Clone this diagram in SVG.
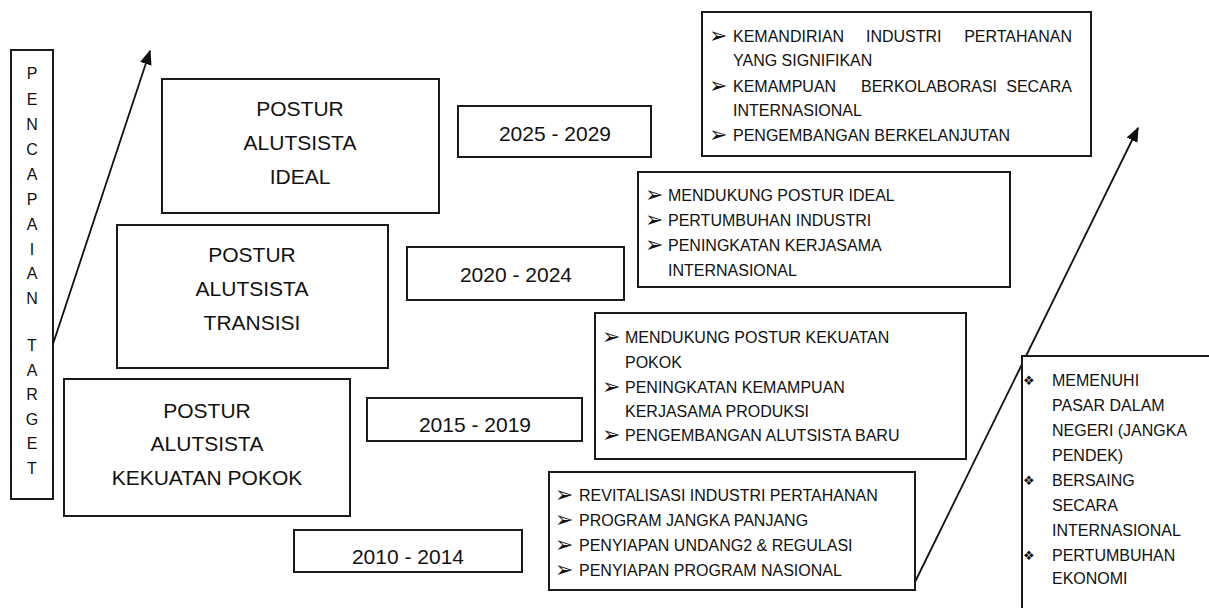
<svg xmlns="http://www.w3.org/2000/svg" width="1209" height="608" viewBox="0 0 1209 608">
<style>
.box{fill:#fff;stroke:#1a1a1a;stroke-width:2}
.t{font-family:"Liberation Sans",Arial,sans-serif;fill:#111}
.big{font-size:21px;text-anchor:middle}
.yr{font-size:21px;text-anchor:middle}
.b{font-size:16px}
.v{font-size:16px;text-anchor:middle}
.bul{font-family:"DejaVu Sans",sans-serif;font-size:22px;font-weight:bold;fill:#111}
.dia{font-family:"DejaVu Sans",sans-serif;font-size:13px;fill:#111}
.conn{stroke:#111;stroke-width:1.8;fill:none}
</style>
<defs>
<marker id="ah" viewBox="0 0 10 10" refX="9" refY="5" markerWidth="15" markerHeight="12" markerUnits="userSpaceOnUse" orient="auto" preserveAspectRatio="none">
<path d="M0,0 L10,5 L0,10 z" fill="#111"/>
</marker>
</defs>
<rect width="1209" height="608" fill="#fff"/>

<g id="target">
<rect class="box" x="11" y="50" width="42" height="449"/>
<text class="t v" x="32" y="79">P</text>
<text class="t v" x="32" y="105">E</text>
<text class="t v" x="32" y="130">N</text>
<text class="t v" x="32" y="155">C</text>
<text class="t v" x="32" y="180">A</text>
<text class="t v" x="32" y="205">P</text>
<text class="t v" x="32" y="230">A</text>
<text class="t v" x="32" y="255">I</text>
<text class="t v" x="32" y="279">A</text>
<text class="t v" x="32" y="304">N</text>
<text class="t v" x="32" y="351">T</text>
<text class="t v" x="32" y="376">A</text>
<text class="t v" x="32" y="400">R</text>
<text class="t v" x="32" y="425">G</text>
<text class="t v" x="32" y="449">E</text>
<text class="t v" x="32" y="474">T</text>
</g>

<g id="connectors">
<line class="conn" x1="53" y1="344" x2="150" y2="51" marker-end="url(#ah)"/>
<line class="conn" x1="915" y1="582" x2="1138" y2="128" marker-end="url(#ah)"/>
</g>

<g id="postur-ideal">
<rect class="box" x="162" y="79" width="277" height="134"/>
<text class="t big" x="300" y="116">POSTUR</text>
<text class="t big" x="300" y="150">ALUTSISTA</text>
<text class="t big" x="300" y="184">IDEAL</text>
</g>

<g id="postur-transisi">
<rect class="box" x="117" y="225" width="271" height="143"/>
<text class="t big" x="252" y="262">POSTUR</text>
<text class="t big" x="252" y="296">ALUTSISTA</text>
<text class="t big" x="252" y="330">TRANSISI</text>
</g>

<g id="postur-pokok">
<rect class="box" x="64" y="379" width="286" height="137"/>
<text class="t big" x="207" y="418">POSTUR</text>
<text class="t big" x="207" y="451">ALUTSISTA</text>
<text class="t big" x="207" y="485">KEKUATAN POKOK</text>
</g>

<g id="y2025">
<rect class="box" x="458" y="106" width="193" height="51"/>
<text class="t yr" x="555" y="141">2025 - 2029</text>
</g>
<g id="y2020">
<rect class="box" x="407" y="247" width="217" height="53"/>
<text class="t yr" x="516" y="282">2020 - 2024</text>
</g>
<g id="y2015">
<rect class="box" x="367" y="398" width="215" height="43"/>
<text class="t yr" x="475" y="432">2015 - 2019</text>
</g>
<g id="y2010">
<rect class="box" x="294" y="530" width="228" height="42"/>
<text class="t yr" x="408" y="564">2010 - 2014</text>
</g>

<g id="goals-2025">
<rect class="box" x="702" y="12" width="389" height="144"/>
<text class="bul" x="709" y="43">➢</text>
<text class="t b" x="733" y="42">KEMANDIRIAN</text>
<text class="t b" x="866" y="42">INDUSTRI</text>
<text class="t b" x="1072" y="42" text-anchor="end">PERTAHANAN</text>
<text class="t b" x="733" y="66">YANG SIGNIFIKAN</text>
<text class="bul" x="709" y="93">➢</text>
<text class="t b" x="733" y="92">KEMAMPUAN</text>
<text class="t b" x="861" y="92">BERKOLABORASI</text>
<text class="t b" x="1072" y="92" text-anchor="end">SECARA</text>
<text class="t b" x="733" y="116">INTERNASIONAL</text>
<text class="bul" x="709" y="142">➢</text>
<text class="t b" x="733" y="141">PENGEMBANGAN BERKELANJUTAN</text>
</g>

<g id="goals-2020">
<rect class="box" x="638" y="172" width="372" height="115"/>
<text class="bul" x="645" y="202">➢</text>
<text class="t b" x="668" y="201">MENDUKUNG POSTUR IDEAL</text>
<text class="bul" x="645" y="227">➢</text>
<text class="t b" x="668" y="226">PERTUMBUHAN INDUSTRI</text>
<text class="bul" x="645" y="252">➢</text>
<text class="t b" x="668" y="251">PENINGKATAN KERJASAMA</text>
<text class="t b" x="668" y="276">INTERNASIONAL</text>
</g>

<g id="goals-2015">
<rect class="box" x="595" y="313" width="371" height="146"/>
<text class="bul" x="602" y="344">➢</text>
<text class="t b" x="625" y="343">MENDUKUNG POSTUR KEKUATAN</text>
<text class="t b" x="625" y="368">POKOK</text>
<text class="bul" x="602" y="394">➢</text>
<text class="t b" x="625" y="393">PENINGKATAN KEMAMPUAN</text>
<text class="t b" x="625" y="417">KERJASAMA PRODUKSI</text>
<text class="bul" x="602" y="442">➢</text>
<text class="t b" x="625" y="441">PENGEMBANGAN ALUTSISTA BARU</text>
</g>

<g id="goals-2010">
<rect class="box" x="549" y="472" width="366" height="118"/>
<text class="bul" x="555" y="502">➢</text>
<text class="t b" x="579" y="501">REVITALISASI INDUSTRI PERTAHANAN</text>
<text class="bul" x="555" y="527">➢</text>
<text class="t b" x="579" y="526">PROGRAM JANGKA PANJANG</text>
<text class="bul" x="555" y="552">➢</text>
<text class="t b" x="579" y="551">PENYIAPAN UNDANG2 &amp; REGULASI</text>
<text class="bul" x="555" y="577">➢</text>
<text class="t b" x="579" y="576">PENYIAPAN PROGRAM NASIONAL</text>
</g>

<g id="outcomes">
<rect class="box" x="1022" y="356" width="200" height="262"/>
<text class="dia" x="1023" y="385">❖</text>
<text class="t b" x="1052" y="386">MEMENUHI</text>
<text class="t b" x="1052" y="411">PASAR DALAM</text>
<text class="t b" x="1052" y="436">NEGERI (JANGKA</text>
<text class="t b" x="1052" y="461">PENDEK)</text>
<text class="dia" x="1023" y="485">❖</text>
<text class="t b" x="1052" y="486">BERSAING</text>
<text class="t b" x="1052" y="511">SECARA</text>
<text class="t b" x="1052" y="536">INTERNASIONAL</text>
<text class="dia" x="1023" y="560">❖</text>
<text class="t b" x="1052" y="561">PERTUMBUHAN</text>
<text class="t b" x="1052" y="584">EKONOMI</text>
</g>
</svg>
